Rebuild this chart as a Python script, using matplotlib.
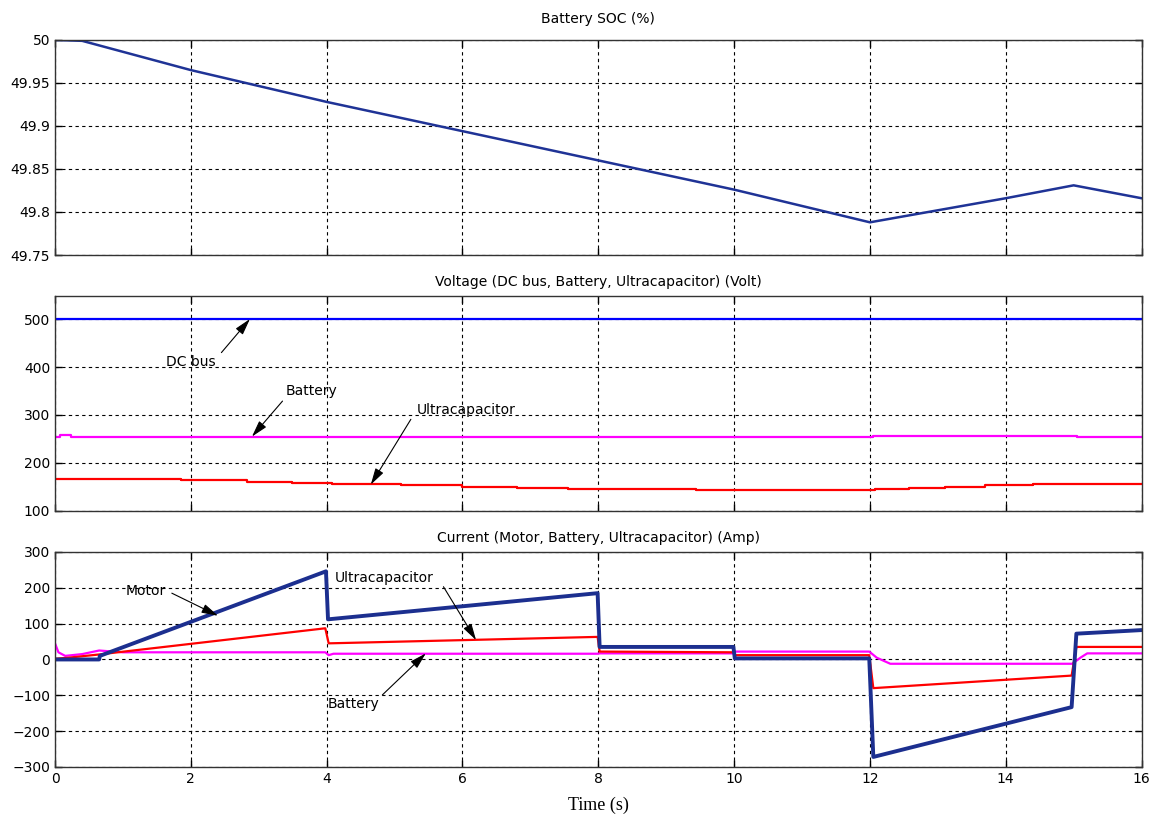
import matplotlib
matplotlib.use("Agg")
import matplotlib.pyplot as plt
import numpy as np

# --- Battery SOC (%) ---
soc_t = [0, 0.4, 2, 4, 6, 8, 10, 12, 13, 14, 15, 16]
soc = [50, 49.999, 49.965, 49.928, 49.894, 49.860, 49.826, 49.788, 49.802, 49.816, 49.831, 49.816]

# --- Voltages (Volt) ---
dc_t = [0, 16]
dc_v = [500, 500]
batv_t = [0, 0.08, 0.23, 12.05, 15.05, 16]
batv = [254, 258, 253.5, 257, 253.5, 253.5]
ucv_t = [0, 1.86, 2.82, 3.49, 4.08, 5.1, 6.0, 6.8, 7.55, 9.44, 12.08, 12.58, 13.1, 13.7, 14.4, 16]
ucv = [166.3, 163.6, 160.8, 158.7, 156, 153.2, 150.4, 148.4, 145.6, 142.8, 145.6, 148.4, 151, 153.9, 156.6, 156.6]

# --- Currents (Amp) ---
mot_t = [0, 0.65, 0.66, 3.99, 4.02, 7.99, 8.02, 9.99, 10.01, 11.99, 12.05, 14.97, 15.04, 16]
mot_i = [0, 0, 10, 246, 112, 185, 35, 35, 3, 3, -272, -133, 72, 82]
uci_t = [0, 0.2, 0.65, 3.98, 4.03, 7.99, 8.02, 9.99, 10.02, 11.99, 12.05, 14.97, 15.04, 16]
uci = [2, 5, 14, 87, 45, 63, 22, 20, 12, 12, -80, -45, 35, 35]
bati_t = [0, 0.05, 0.15, 0.4, 0.65, 1.0, 3.98, 4.03, 4.1, 7.99, 8.02, 9.99, 10.02, 11.99, 12.1, 12.3, 14.98, 15.1, 15.2, 16]
bati = [45, 20, 10, 15, 25, 20, 20, 12, 16, 16, 17, 17, 22, 22, 5, -12, -12, 5, 17, 17]

xticks = [0, 2, 4, 6, 8, 10, 12, 14, 16]
soc_ticks = [49.75, 49.8, 49.85, 49.9, 49.95, 50]
soc_labels = ["49.75", "49.8", "49.85", "49.9", "49.95", "50"]
v_ticks = [100, 200, 300, 400, 500]
i_ticks = [-300, -200, -100, 0, 100, 200, 300]

plt.rcParams['font.family'] = ['DejaVu Sans']
plt.rcParams['font.size'] = 10

fig = plt.figure(figsize=(11.51, 8.21), dpi=100)
left, width, height = 0.0478, 0.944, 0.2619
ax1 = fig.add_axes([left, 0.6894, width, height])
ax2 = fig.add_axes([left, 0.3776, width, height])
ax3 = fig.add_axes([left, 0.0658, width, height])

def style(ax):
    ax.set_xlim(0, 16)
    ax.set_xticks(xticks)
    ax.grid(True, color='k', linestyle=(0, (3, 3)), linewidth=0.8)
    ax.tick_params(direction='in', top=True, right=True, length=5, width=1, labelsize=10)
    for s in ax.spines.values():
        s.set_linewidth(1)
        s.set_color('#333333')

# SOC
ax1.plot(soc_t, soc, color='#1f3396', lw=1.8)
style(ax1)
ax1.set_ylim(49.75, 50)
ax1.set_yticks(soc_ticks)
ax1.set_yticklabels(soc_labels)
ax1.set_xticklabels([])
ax1.set_title("Battery SOC (%)", fontsize=10, pad=12)

# Voltage
ax2.plot(dc_t, dc_v, color='#0000ff', lw=1.6)
ax2.step(batv_t, batv, where='post', color='#ff00ff', lw=1.6)
ax2.step(ucv_t, ucv, where='post', color='#ff0000', lw=1.6)
style(ax2)
ax2.set_ylim(100, 548)
ax2.set_yticks(v_ticks)
ax2.set_xticklabels([])
ax2.set_title("Voltage (DC bus, Battery, Ultracapacitor) (Volt)", fontsize=10, pad=7)

arrow = dict(arrowstyle='-|>,head_length=1.0,head_width=0.28', color='k', lw=0.8,
             shrinkA=0, shrinkB=0)
ax2.text(2.0, 411, "DC bus", ha='center', va='center', fontsize=10)
ax2.annotate('', xy=(2.87, 500), xytext=(2.45, 430), arrowprops=arrow)
ax2.text(3.77, 349, "Battery", ha='center', va='center', fontsize=10)
ax2.annotate('', xy=(2.9, 255), xytext=(3.35, 329), arrowprops=arrow)
ax2.text(6.05, 311, "Ultracapacitor", ha='center', va='center', fontsize=10)
ax2.annotate('', xy=(4.65, 155), xytext=(5.24, 291), arrowprops=arrow)

# Current
ax3.plot(bati_t, bati, color='#ff00ff', lw=1.6)
ax3.plot(uci_t, uci, color='#ff0000', lw=1.6)
ax3.plot(mot_t, mot_i, color='#1c2f8f', lw=2.8)
style(ax3)
ax3.set_ylim(-300, 300)
ax3.set_yticks(i_ticks)
ax3.set_title("Current (Motor, Battery, Ultracapacitor) (Amp)", fontsize=10, pad=7)
ax3.set_xlabel("Time (s)", family='Liberation Serif', fontsize=13, labelpad=8)

ax3.text(1.33, 190, "Motor", ha='center', va='center', fontsize=10)
ax3.annotate('', xy=(2.4, 122), xytext=(1.72, 185), arrowprops=arrow)
ax3.text(4.85, 228, "Ultracapacitor", ha='center', va='center', fontsize=10)
ax3.annotate('', xy=(6.2, 54), xytext=(5.72, 203), arrowprops=arrow)
ax3.text(4.39, -125, "Battery", ha='center', va='center', fontsize=10)
ax3.annotate('', xy=(5.46, 17), xytext=(4.82, -99), arrowprops=arrow)

fig.savefig("out.png", dpi=100)
